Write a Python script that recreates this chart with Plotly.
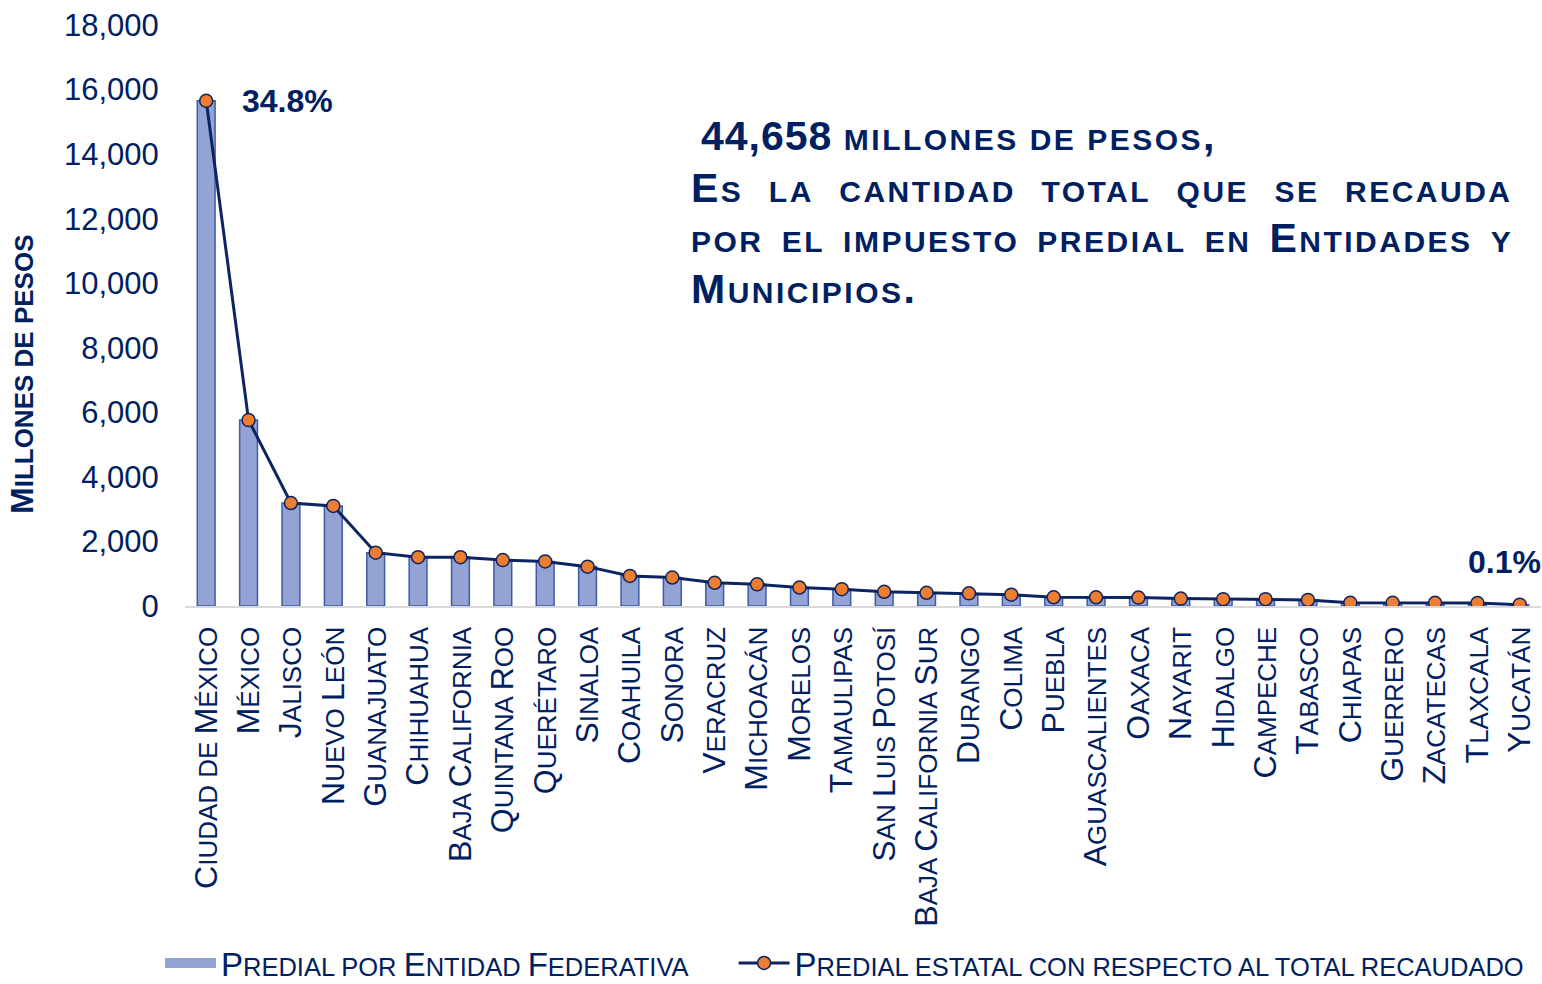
import plotly.graph_objects as go

# ---------------- data ----------------
estados = ["Ciudad de México", "México", "Jalisco", "Nuevo León", "Guanajuato", "Chihuahua",
           "Baja California", "Quintana Roo", "Querétaro", "Sinaloa", "Coahuila", "Sonora",
           "Veracruz", "Michoacán", "Morelos", "Tamaulipas", "San Luis Potosí",
           "Baja California Sur", "Durango", "Colima", "Puebla", "Aguascalientes", "Oaxaca",
           "Nayarit", "Hidalgo", "Campeche", "Tabasco", "Chiapas", "Guerrero", "Zacatecas",
           "Tlaxcala", "Yucatán"]
predial_mdp = [15650, 5760, 3190, 3100, 1650, 1510, 1510, 1420, 1380, 1220, 930, 880,
               720, 670, 570, 520, 440, 410, 390, 350, 270, 270, 260, 230, 210, 210,
               190, 100, 100, 100, 90, 40]
pct_total = [34.78, 12.80, 7.09, 6.89, 3.67, 3.36, 3.36, 3.16, 3.07, 2.71, 2.07, 1.96,
             1.60, 1.49, 1.27, 1.16, 0.98, 0.91, 0.87, 0.78, 0.60, 0.60, 0.58, 0.51, 0.47,
             0.47, 0.42, 0.22, 0.22, 0.22, 0.20, 0.09]
y_ticks = [0, 2000, 4000, 6000, 8000, 10000, 12000, 14000, 16000, 18000]
label_first = "34.8%"
label_last = "0.1%"
serie_barras = "Predial por Entidad Federativa"
serie_linea = "Predial estatal con respecto al total recaudado"

# ---------------- style ----------------
NAVY = "#002060"
BAR_FILL = "#93a3d4"
BAR_EDGE = "#3d5ca8"
W, H = 1542, 984
L, R, T, B = 185, 1, 25, 378
PW, PH = W - L - R, H - T - B
FONT = "Liberation Sans, Arial, sans-serif"
NB = "\u00a0"


def sc(text, small):
    """small caps: lowercase letters rendered as smaller capitals"""
    out, run = [], ""
    for ch in text:
        if ch.islower() or ch == " ":
            run += ch
        else:
            if run:
                out.append(f'<span style="font-size:{small}px">{run.upper()}</span>')
                run = ""
            out.append(ch)
    if run:
        out.append(f'<span style="font-size:{small}px">{run.upper()}</span>')
    return "".join(out)


def px(xp):
    return (xp - L) / PW


def py(yp):
    return (H - B - yp) / PH


def gap(pxw, n=4):
    size = pxw / (n * 0.278)
    return f'<span style="font-size:{size:.1f}px">{NB * n}</span>'


fig = go.Figure()
fig.add_trace(go.Bar(
    x=estados, y=predial_mdp, name=serie_barras, width=0.42, showlegend=False,
    marker=dict(color=BAR_FILL, line=dict(color=BAR_EDGE, width=1.5)),
    yaxis="y",
))
# legend proxy for the bars (wide swatch as in the original)
fig.add_trace(go.Scatter(
    x=[None], y=[None], mode="lines", name=sc(serie_barras, 25.5) + gap(40, n=6),
    line=dict(color=BAR_FILL, width=16), hoverinfo="skip",
))
fig.add_trace(go.Scatter(
    x=estados, y=pct_total, name=sc(serie_linea, 25.5), mode="lines+markers",
    line=dict(color="#0c2461", width=3),
    marker=dict(color="#ed7d31", size=13, line=dict(color="#0c2461", width=1.5)),
    yaxis="y2",
))

fig.update_layout(
    width=W, height=H,
    margin=dict(l=L, r=R, t=T, b=B, autoexpand=False),
    paper_bgcolor="white", plot_bgcolor="white",
    font=dict(family=FONT, color=NAVY),
    xaxis=dict(
        type="category", range=[-0.5, len(estados) - 0.5],
        tickmode="array", tickvals=estados, ticktext=[sc(e, 26) for e in estados],
        tickangle=-90, tickfont=dict(size=32, color=NAVY, family=FONT),
        showline=True, linecolor="#d9d9d9", linewidth=2,
        ticks="outside", ticklen=6, tickcolor="rgba(0,0,0,0)",
        showgrid=False, automargin=False,
    ),
    yaxis=dict(
        range=[0, 18000], tickvals=y_ticks, tickformat=",d",
        tickfont=dict(size=31, color=NAVY, family=FONT),
        showgrid=False, zeroline=False, showline=False,
        ticks="outside", ticklen=19, tickcolor="rgba(0,0,0,0)", automargin=False,
    ),
    yaxis2=dict(range=[0, 40], overlaying="y", visible=False),
    showlegend=True,
    legend=dict(
        orientation="h", x=px(160), xanchor="left", y=py(963), yanchor="middle",
        font=dict(size=33, color=NAVY, family=FONT), itemwidth=51,
        traceorder="normal", bgcolor="rgba(0,0,0,0)",
    ),
)

ann = []
ann.append(dict(x=px(22), y=py(375), xref="paper", yref="paper", textangle=-90,
                xanchor="center", yanchor="middle",
                text="<b>" + sc("Millones de pesos", 26) + "</b>", showarrow=False,
                font=dict(size=32, color=NAVY, family=FONT)))
ann.append(dict(x=px(287), y=py(101), xref="paper", yref="paper",
                xanchor="center", yanchor="middle",
                text=f"<b>{label_first}</b>", showarrow=False,
                font=dict(size=32, color=NAVY, family=FONT)))
ann.append(dict(x=px(1543), y=py(562), xref="paper", yref="paper", xanchor="right",
                yanchor="middle",
                text=f"<b>{label_last}</b>", showarrow=False,
                font=dict(size=32, color=NAVY, family=FONT)))

LS = 2.5  # letter spacing (px) of the text block


def word(w, small=30):
    return f'<span style="letter-spacing:{LS}px">{sc(w, small)}</span>'


def just(text, gpx, small=30):
    return gap(gpx).join(word(w, small) for w in text.split())


lines = [
    (699, 136, '<b><span style="letter-spacing:1px">44,658</span> '
     + f'<span style="letter-spacing:{LS}px">' + sc("millones de pesos,", 30) + "</span></b>"),
    (689, 188, "<b>" + just("Es la cantidad total que se recauda", 25.5) + "</b>"),
    (689, 238, "<b>" + just("por el impuesto predial en Entidades y", 18.1) + "</b>"),
    (689, 289, "<b>" + word("Municipios.") + "</b>"),
]
for xp_, yp_, t in lines:
    ann.append(dict(x=px(xp_), y=py(yp_), xref="paper", yref="paper", xanchor="left",
                    yanchor="middle", text=t, showarrow=False,
                    font=dict(size=41, color=NAVY, family=FONT)))
fig.update_layout(annotations=ann)

fig.write_html("out.html", config={"displayModeBar": False},
               post_script="document.body.style.margin='0';")
